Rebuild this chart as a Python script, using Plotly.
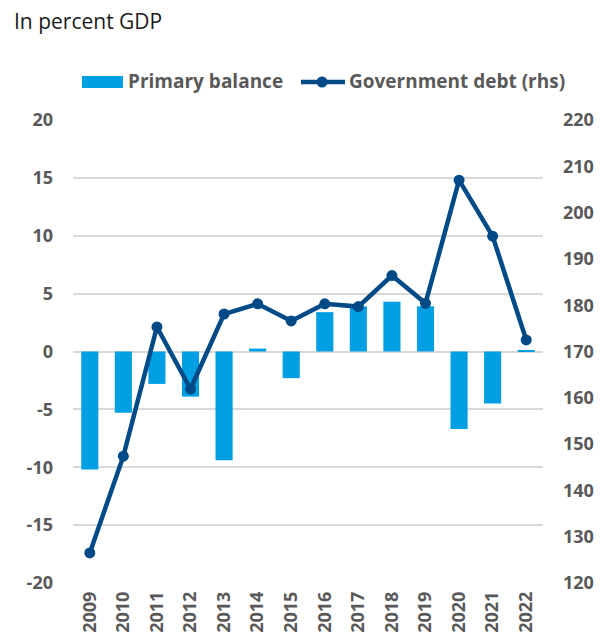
import plotly.graph_objects as go

years = [str(y) for y in range(2009, 2023)]
primary_balance = [-10.2, -5.3, -2.8, -3.9, -9.4, 0.25, -2.3, 3.4, 3.9, 4.3, 3.9, -6.7, -4.5, 0.1]
government_debt = [126.5, 147.4, 175.3, 161.9, 178.1, 180.3, 176.6, 180.3, 179.7, 186.4, 180.4, 207.0, 194.9, 172.5]
left_ticks = [-20, -15, -10, -5, 0, 5, 10, 15, 20]
left_labels = ["-20", "-15", "-10", "-5", "0", "5", "10", "15", "20"]
right_ticks = [120, 130, 140, 150, 160, 170, 180, 190, 200, 210, 220]

BAR = "#009FE3"
LINE = "#004A87"
TXT = "#595959"
GRID = "#D9D9D9"
FONT = "Open Sans"

# figure geometry (page has an 8px body margin)
W, H = 596, 633
L, R, T, B = 65, 61, 112, 58
PW, PH = W - L - R, H - T - B


def px(fx):
    return (fx - L) / PW


def py(fy):
    return (H - B - fy) / PH


fig = go.Figure()
fig.add_trace(go.Bar(x=years, y=primary_balance, name="Primary balance",
                     marker=dict(color=BAR, line=dict(width=0))))
fig.add_trace(go.Scatter(x=years, y=government_debt, name="Government debt (rhs)", yaxis="y2",
                         mode="lines+markers", line=dict(color=LINE, width=4.5),
                         marker=dict(color=LINE, size=11)))

tickfont = dict(family=FONT, size=18, color=TXT, weight="bold")
shapes = [
    dict(type="rect", xref="paper", yref="paper", x0=px(74), x1=px(115), y0=py(80), y1=py(68),
         fillcolor=BAR, line=dict(width=0)),
    dict(type="line", xref="paper", yref="paper", x0=px(293), x1=px(337), y0=py(74), y1=py(74),
         line=dict(color=LINE, width=4.5)),
    dict(type="circle", xref="paper", yref="paper", x0=px(308.5), x1=px(319.5), y0=py(79.5), y1=py(68.5),
         fillcolor=LINE, line=dict(width=0)),
]
annotations = [
    dict(text="In percent GDP", xref="paper", yref="paper", x=px(4), y=py(13),
         xanchor="left", yanchor="middle", showarrow=False,
         font=dict(family=FONT, size=21, color="#1a1a1a")),
    dict(text="Primary balance", xref="paper", yref="paper", x=px(118), y=py(73),
         xanchor="left", yanchor="middle", showarrow=False,
         font=dict(family=FONT, size=19, color=TXT, weight="bold")),
    dict(text="Government debt (rhs)", xref="paper", yref="paper", x=px(339), y=py(73),
         xanchor="left", yanchor="middle", showarrow=False,
         font=dict(family=FONT, size=19, color=TXT, weight="bold")),
]

fig.update_layout(
    width=W, height=H,
    paper_bgcolor="white", plot_bgcolor="white",
    margin=dict(l=L, r=R, t=T, b=B, autoexpand=False),
    font=dict(family=FONT, color=TXT, size=18),
    showlegend=False,
    bargap=0.49,
    xaxis=dict(type="category", range=[-0.5, 13.5], tickangle=-90, showgrid=False, showline=False,
               ticks="", automargin=False, tickfont=tickfont, ticklabelstandoff=4),
    yaxis=dict(range=[-20, 20], tickvals=left_ticks, ticktext=left_labels,
               showgrid=True, gridcolor=GRID, gridwidth=2,
               zeroline=True, zerolinecolor=GRID, zerolinewidth=2, ticks="", automargin=False,
               tickfont=tickfont, ticklabelstandoff=19),
    yaxis2=dict(range=[120, 220], tickvals=right_ticks, overlaying="y", side="right",
                showgrid=False, zeroline=False, ticks="", automargin=False,
                tickfont=tickfont, ticklabelstandoff=19),
    shapes=shapes,
    annotations=annotations,
)

fig.write_html("out.html")
